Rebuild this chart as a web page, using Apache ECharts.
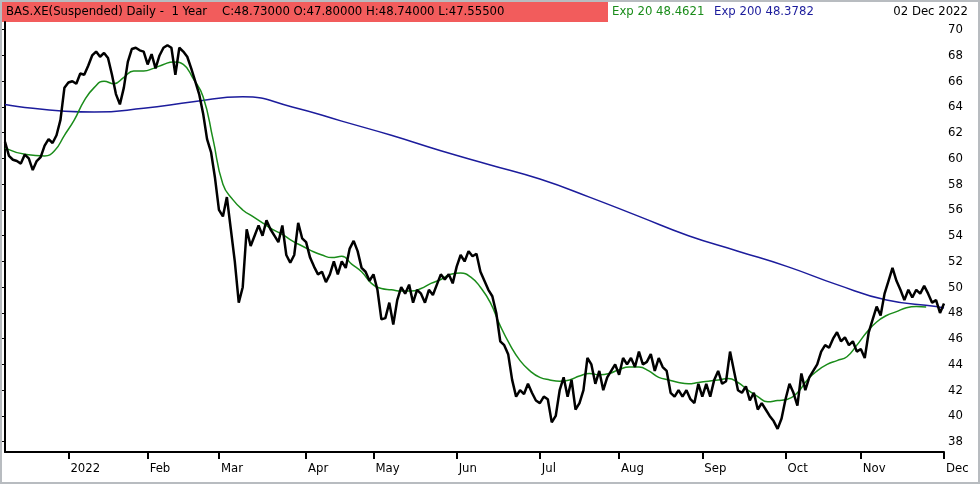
<!DOCTYPE html>
<html><head><meta charset="utf-8">
<script src="https://cdn.jsdelivr.net/npm/echarts@6/dist/echarts.min.js"></script>
<style>html,body{margin:0;padding:0;background:#fff}#c{width:980px;height:484px;box-sizing:border-box;border:2px solid #b8bcc0}</style>
</head><body><div id="c"></div>
<script>
const closes=[61.3,60.2,59.9,59.8,59.6,60.3,60.0,59.1,59.8,60.1,61.0,61.5,61.2,61.8,63.0,65.5,65.9,66.0,65.8,66.6,66.5,67.2,68.0,68.3,67.9,68.2,67.8,66.5,65.0,64.2,65.5,67.5,68.5,68.6,68.4,68.3,67.3,68.1,67.0,68.0,68.6,68.8,68.6,66.5,68.6,68.3,67.9,67.0,66.0,65.0,63.5,61.5,60.5,58.5,56.0,55.5,57.0,54.5,52.0,48.8,50.0,54.5,53.2,54.0,54.8,54.0,55.2,54.5,54.0,53.5,54.8,52.5,51.9,52.5,55.0,53.8,53.5,52.3,51.6,51.0,51.2,50.4,51.0,52.0,51.0,52.0,51.5,53.0,53.6,52.8,51.5,51.2,50.5,51.0,49.8,47.5,47.6,48.8,47.1,49.0,50.0,49.5,50.2,48.8,49.8,49.5,48.8,49.8,49.4,50.2,51.0,50.6,51.0,50.3,51.6,52.5,52.0,52.8,52.4,52.6,51.2,50.5,49.8,49.3,48.0,45.8,45.5,44.8,42.8,41.5,42.0,41.7,42.5,41.8,41.2,41.0,41.5,41.3,39.5,40.0,42.0,43.0,41.5,42.8,40.5,41.0,42.0,44.5,44.0,42.5,43.5,42.0,43.0,43.5,44.0,43.2,44.5,44.0,44.5,43.8,45.0,44.0,44.2,44.8,43.5,44.5,43.8,43.5,41.8,41.5,42.0,41.5,42.0,41.3,41.0,42.5,41.5,42.5,41.5,42.8,43.5,42.5,42.7,45.0,43.5,42.0,41.8,42.3,41.2,41.8,40.5,41.0,40.5,40.0,39.6,39.0,39.8,41.3,42.5,41.8,40.8,43.3,42.0,43.0,43.5,44.0,45.0,45.5,45.3,46.0,46.5,45.8,46.1,45.5,45.8,45.0,45.2,44.5,46.5,47.5,48.5,47.8,49.5,50.5,51.5,50.5,49.8,49.0,49.8,49.2,49.8,49.5,50.1,49.5,48.8,49.0,48.0,48.73];
const ema20Head=[60.8,60.3], ema20HeadPos=[0,5.4];
const ema20=[60.2,60.6,61.8,63.0,64.5,65.5,66.0,65.8,66.3,66.8,66.8,67.0,67.3,67.5,67.3,66.2,64.8,61.5,58.0,56.8,56.0,55.5,55.0,54.5,54.1,53.6,53.2,52.8,52.5,52.3,52.4,51.8,51.2,50.3,49.9,49.8,49.7,49.7,49.9,50.3,50.6,51.0,51.1,50.8,50.0,48.8,47.0,45.5,44.3,43.5,43.0,42.8,42.7,42.8,43.1,43.3,43.2,43.3,43.6,43.8,43.8,43.5,43.0,42.8,42.6,42.5,42.6,42.7,42.8,42.9,42.6,42.0,41.5,41.1,41.2,41.3,41.8,42.8,43.5,44.0,44.3,44.6,45.5,46.5,47.3,47.8,48.1,48.4,48.5,48.46];
const ema200=[64.2,63.6,63.9,64.4,64.8,64.0,62.9,61.8,60.6,59.5,58.4,57.0,55.5,54.0,52.8,51.6,50.2,49.0,48.5,48.38];
const monthIdx=[16,36,54,76,93,114,135,155,176,197,216,237];
const monthLbl=['2022','Feb','Mar','Apr','May','Jun','Jul','Aug','Sep','Oct','Nov','Dec'];
const yTicks=[38,40,42,44,46,48,50,52,54,56,58,60,62,64,66,68,70];

const N=closes.length;
const cats=closes.map((_,i)=>i);
const mi=monthIdx.map(v=>Math.min(v,N-1));
const g20=ema20HeadPos.map((p,i)=>[p,ema20Head[i]]).concat(ema20.map((v,i)=>[Math.min(10+2.5*i,N-1),v]));
const g200=ema200.map((v,i)=>[i===0?0:Math.min(12.5*(i+1)-2.5,N-1),v]);
g200[g200.length-1][0]=N-1;
const ch=echarts.init(document.getElementById('c'));
const font='DejaVu Sans Condensed, DejaVu Sans';
ch.setOption({
 animation:false,
 grid:{left:3,right:34,top:20,bottom:30},
 xAxis:[{type:'category',data:cats,boundaryGap:false,
   axisLine:{lineStyle:{color:'#000',width:2}},
   axisTick:{interval:(i)=>mi.includes(i),length:7,lineStyle:{color:'#000',width:2}},
   axisLabel:{interval:(i)=>mi.includes(i),formatter:(v)=>{const k=mi.indexOf(+v);return k>=0?monthLbl[k]:'';},color:'#000',fontFamily:font,fontSize:13,margin:10,align:'left',padding:[0,0,0,2]},
   splitLine:{show:false}},
  {type:'value',min:0,max:N-1,show:false}],
 yAxis:{type:'value',position:'right',min:37.2,max:70.6,
   axisLine:{show:true,lineStyle:{color:'#000',width:2}},
   axisTick:{show:true,customValues:yTicks,length:3,inside:true,lineStyle:{color:'#000'}},
   axisLabel:{customValues:yTicks,color:'#000',fontFamily:font,fontSize:13,margin:4},
   splitLine:{show:false}},
 series:[
  {type:'line',xAxisIndex:1,data:g200,smooth:true,symbol:'none',lineStyle:{color:'#1c1c9c',width:1.5}},
  {type:'line',xAxisIndex:1,data:g20,smooth:true,symbol:'none',lineStyle:{color:'#1a8c1a',width:1.5}},
  {type:'line',data:closes,symbol:'none',lineStyle:{color:'#000',width:2.5}}
 ],
 graphic:[
  {type:'rect',left:0,top:0,shape:{width:606,height:20},style:{fill:'#f25c5c'}},
  {type:'text',left:4,top:3,style:{text:'BAS.XE(Suspended) Daily -  1 Year    C:48.73000 O:47.80000 H:48.74000 L:47.55500',fill:'#000',font:'13px '+font}},
  {type:'text',left:610,top:3,style:{text:'Exp 20 48.4621',fill:'#1a8c1a',font:'13px '+font}},
  {type:'text',left:712,top:3,style:{text:'Exp 200 48.3782',fill:'#1c1c9c',font:'13px '+font}},
  {type:'text',right:10,top:3,style:{text:'02 Dec 2022',fill:'#000',font:'13px '+font}}
 ]
});
</script></body></html>
